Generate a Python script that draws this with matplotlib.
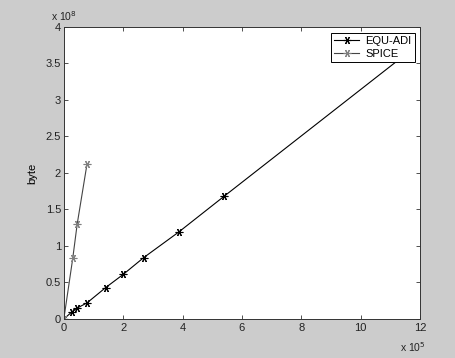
import matplotlib
matplotlib.use("Agg")
import matplotlib.pyplot as plt

plt.rcParams['font.family'] = ['Liberation Sans', 'DejaVu Sans']

# data (x in units of 1e5, y in units of 1e8)
equ_x = [0.0, 0.28, 0.45, 0.78, 1.41, 2.0, 2.69, 3.87, 5.4, 11.6]
equ_y = [0.0, 0.10, 0.15, 0.22, 0.43, 0.61, 0.84, 1.19, 1.68, 3.65]
spice_x = [0.0, 0.30, 0.45, 0.78]
spice_y = [0.0, 0.83, 1.30, 2.12]

x_ticks = [0, 2, 4, 6, 8, 10, 12]
y_ticks = [0, 0.5, 1, 1.5, 2, 2.5, 3, 3.5, 4]
y_tick_labels = ['0', '0.5', '1', '1.5', '2', '2.5', '3', '3.5', '4']

BG = '#cccccc'
ASTERISK = (6, 2, 90)

fig = plt.figure(figsize=(4.56, 3.58), dpi=100, facecolor=BG)
ax = fig.add_axes([0.140, 0.109, 0.781, 0.816])

ax.plot(equ_x, equ_y, color='black', lw=0.8, marker=ASTERISK, ms=5.5,
        mew=0.8, label='EQU-ADI')
ax.plot(spice_x, spice_y, color='#444444', lw=0.8, marker=ASTERISK, ms=5.5,
        mec='#808080', mfc='#808080', mew=0.8, label='SPICE')

ax.set_xlim(0, 12)
ax.set_ylim(0, 4)
ax.set_xticks(x_ticks)
ax.set_yticks(y_ticks)
ax.set_yticklabels(y_tick_labels)
ax.tick_params(direction='in', length=3, width=0.6, labelsize=8,
               top=True, right=True, colors='#333333', labelcolor='#222222')
ax.tick_params(axis='x', pad=3)
ax.tick_params(axis='y', pad=2)
for s in ax.spines.values():
    s.set_linewidth(0.7)
    s.set_color('#333333')

ax.set_ylabel('byte', fontsize=8, labelpad=6)

fig.text(0.140, 0.935, r'x 10$^{8}$', fontsize=7.5, ha='center', va='bottom',
         color='#222222')
fig.text(0.905, 0.012, r'x 10$^{5}$', fontsize=7.5, ha='center', va='bottom',
         color='#222222')

leg = ax.legend(loc='upper right', bbox_to_anchor=(0.986, 0.979),
                borderaxespad=0, fancybox=False, edgecolor='black',
                framealpha=1, fontsize=8, numpoints=1, handlelength=2.2,
                borderpad=0.3, labelspacing=0.2, handletextpad=0.6)
leg.get_frame().set_linewidth(0.7)

fig.savefig('out.png', dpi=100, facecolor=BG)
